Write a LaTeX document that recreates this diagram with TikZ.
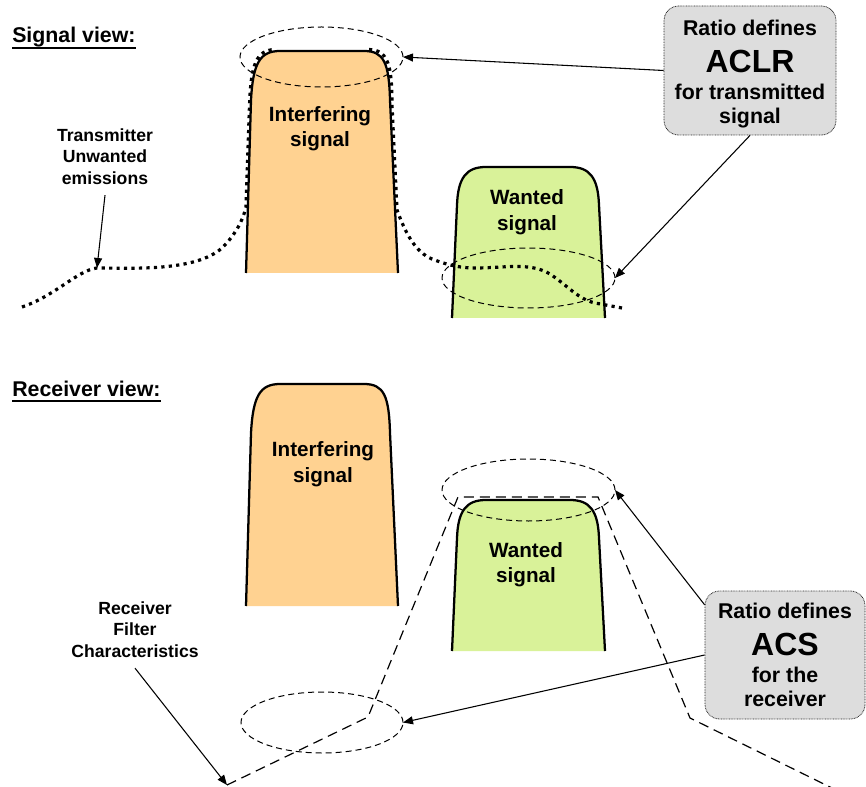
\documentclass[tikz,border=0pt]{standalone}
\usepackage{fontspec}
\setmainfont{Liberation Sans}
\usetikzlibrary{shapes.geometric,arrows.meta}
\definecolor{intfill}{RGB}{255,210,145}
\definecolor{wantfill}{RGB}{217,242,153}
\definecolor{boxfill}{RGB}{221,221,221}
\newcommand\intshape{(246,273) -- (251,100) .. controls (253,63) and (260,51) .. (280,51) -- (364,51) .. controls (384,51) and (389,63) .. (390,100) -- (398,273)}
\newcommand\wantshape{(452,318) -- (457,205) .. controls (458,178) and (466,167) .. (486,167) -- (570,167) .. controls (590,167) and (598,178) .. (599,205) -- (605,318)}
\begin{document}
\begin{tikzpicture}[x=0.75pt,y=-0.75pt,
  sigoutline/.style={line width=1.7pt,line join=round},
  emission/.style={line width=2.4pt,dash pattern=on 2.4pt off 3.2pt},
  ring/.style={ellipse,draw,line width=0.75pt,dash pattern=on 4.5pt off 3pt,inner sep=0pt,outer sep=0pt},
  filterline/.style={line width=0.9pt,dash pattern=on 7.5pt off 4.5pt},
  ratiobox/.style={draw=black!85,fill=boxfill,rounded corners=11pt,line width=0.6pt,dash pattern=on 0.6pt off 0.6pt,inner sep=0pt,align=center,font=\fontsize{16}{18.3}\selectfont\bfseries},
  arr/.style={line width=0.8pt,-{Triangle[length=7.5pt,width=6pt]}},
  siglabel/.style={align=center,inner sep=0pt,font=\fontsize{15.5}{19}\selectfont\bfseries},
  sidelabel/.style={align=center,inner sep=0pt,font=\fontsize{13.2}{15.8}\selectfont\bfseries},
  header/.style={inner sep=0pt,anchor=base west,font=\fontsize{16}{19}\selectfont\bfseries}]
\useasboundingbox (0,0) rectangle (866,787);

% ---------- Signal view ----------
\fill[intfill] \intshape -- cycle;
\fill[wantfill] \wantshape -- cycle;
\draw[emission] (22,307) .. controls (55,296) and (78,270) .. (97,268)
  .. controls (130,268) and (195,272) .. (222,248)
  .. controls (236,234) and (243,220) .. (246,207)
  -- (249.5,105) .. controls (251,65) and (256,50) .. (275,49.5)
  (369,49.5) .. controls (388,50) and (392,65) .. (392,105)
  -- (397,210)
  .. controls (405,232) and (415,252) .. (432,259)
  .. controls (445,264) and (458,268) .. (475,268)
  .. controls (505,268) and (530,262) .. (550,274)
  .. controls (568,286) and (578,299) .. (595,303)
  -- (622,308);
\draw[sigoutline] \intshape;
\draw[sigoutline] \wantshape;

\node[ring,minimum width=122.25pt,minimum height=45pt] (e1) at (321.5,57) {};
\node[ring,minimum width=129.75pt,minimum height=45pt] (e2) at (528.5,278) {};

\node[header] (sv) at (12,43) {Signal view:};
\draw[line width=1.5pt] ([yshift=-3.8pt]sv.base west) -- ([yshift=-3.8pt]sv.base east);

\node[siglabel] (int1) at (320,128.7) {Interfering\\signal};
\node[siglabel] (want1) at (527,212.2) {Wanted\\signal};
\node[sidelabel] (tx) at (105,156.7) {Transmitter\\Unwanted\\emissions};
\coordinate (txtip) at (97,268);

\node[ratiobox,minimum width=129pt,minimum height=96.75pt] (aclr) at (750,70.5)
  {\rule{0pt}{17pt}Ratio defines\\[9.2pt]{\fontsize{24}{24}\selectfont ACLR}\\[2.2pt]for transmitted\\signal};

\draw[arr] ([yshift=-8pt]tx.south) -- (txtip);
\draw[arr] (aclr.west) -- (e1.east);
\draw[arr] (aclr.south) -- (e2.east);

% ---------- Receiver view ----------
\begin{scope}[shift={(0,333)}]
\fill[intfill] \intshape -- cycle;
\fill[wantfill] \wantshape -- cycle;
\draw[sigoutline] \intshape;
\draw[sigoutline] \wantshape;
\end{scope}

\coordinate (rftip) at (227,785);
\draw[filterline] (rftip) -- (368,717) -- (458,497) -- (598,497) -- (690,718) -- (834,789);

\node[ring,minimum width=129.75pt,minimum height=46.5pt] (e3) at (528.5,490) {};
\node[ring,minimum width=121.5pt,minimum height=45.75pt] (e4) at (322,722.5) {};

\node[header] (rv) at (12,396) {Receiver view:};
\draw[line width=1.5pt] ([yshift=-3.8pt]rv.base west) -- ([yshift=-3.8pt]rv.base east);

\node[siglabel] (int2) at (323,464.2) {Interfering\\signal};
\node[siglabel] (want2) at (526,564.7) {Wanted\\signal};
\node[sidelabel] (rf) at (135,629.7) {Receiver\\Filter\\Characteristics};

\node[ratiobox,minimum width=120pt,minimum height=96pt] (acs) at (785,655)
  {Ratio defines\\[9.2pt]{\fontsize{24}{24}\selectfont ACS}\\[2.2pt]for the\\receiver};

\draw[arr] ([yshift=-8pt]rf.south) -- (rftip);
\draw[arr] (acs.148) -- (e3.east);
\draw[arr] (acs.west) -- (e4.east);
\end{tikzpicture}
\end{document}
